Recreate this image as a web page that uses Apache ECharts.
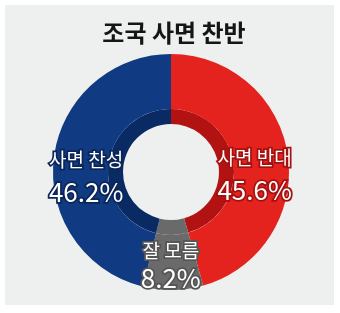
<!DOCTYPE html>
<html><head><meta charset="utf-8">
<script src="https://cdn.jsdelivr.net/npm/echarts@6/dist/echarts.min.js"></script>
<style>html,body{margin:0;padding:0;background:#fff}#c{width:340px;height:313px}</style>
</head><body><div id="c"></div>
<script>
const title = '조국 사면 찬반';
const categories = ['사면 반대', '잘 모름', '사면 찬성'];
const values = [45.6, 8.2, 46.2];
const outerColors = ['#e4231f', '#6a6a6a', '#103a82'];
const innerColors = ['#b31212', '#6a6a6a', '#0a2a64'];
const outlineColors = ['#a51010', '#555555', '#0a2658'];
const labelShift = [[-9, 15], [-2, -1], [8, 15]];
const labelGap = [32, 27, 32];

const chart = echarts.init(document.getElementById('c'));
const font = '"Noto Sans CJK KR", "Noto Sans", sans-serif';
chart.setOption({
  animation: false,
  graphic: [{type: 'rect', shape: {x: 5, y: 5, width: 329, height: 300}, style: {fill: '#eeefef'}, z: -10}],
  title: {text: title, left: 169, top: 16, textAlign: 'center',
    textStyle: {fontFamily: font, fontSize: 24, fontWeight: 'bold', color: '#151515'}},
  series: [
    {
      type: 'pie', center: [171, 172], radius: [63, 118], startAngle: 90, clockwise: true,
      silent: true,
      data: categories.map((n, i) => ({name: n, value: values[i],
        itemStyle: {color: outerColors[i]},
        label: {textBorderColor: outlineColors[i],
          rich: {
            n: {fontFamily: font, fontSize: 19, color: '#fff', textBorderColor: outlineColors[i], textBorderWidth: 3.5, lineHeight: labelGap[i]},
            v: {fontFamily: font, fontSize: 26, color: '#fff', textBorderColor: outlineColors[i], textBorderWidth: 3.5, lineHeight: labelGap[i]}
          }}})),
      label: {
        show: true, position: 'inside',
        formatter: '{n|{b}}\n{v|{c}%}',
        color: '#fff', textBorderWidth: 3.5
      },
      labelLayout: function (p) { const s = labelShift[p.dataIndex]; return {dx: s[0], dy: s[1]}; },
      labelLine: {show: false}
    },
    {
      type: 'pie', center: [171, 172], radius: [48, 63], startAngle: 90, clockwise: true,
      silent: true, z: 1,
      data: categories.map((n, i) => ({name: n, value: values[i], itemStyle: {color: innerColors[i]}})),
      label: {show: false}, labelLine: {show: false}
    }
  ]
});
</script></body></html>
